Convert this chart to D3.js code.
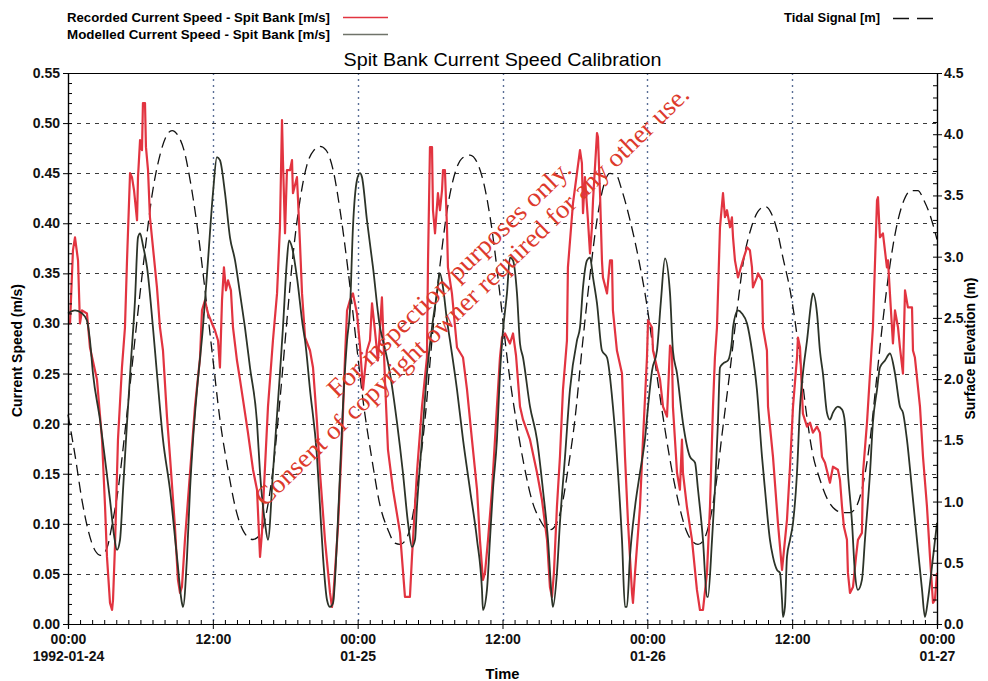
<!DOCTYPE html>
<html>
<head>
<meta charset="utf-8">
<script src="https://cdnjs.cloudflare.com/ajax/libs/d3/7.8.5/d3.min.js"></script>
<style>
body { margin: 0; background: #fff; }
.narrow { font-family: "Liberation Sans Narrow", "Liberation Sans", Arial, sans-serif; font-weight: bold; }
.axis path, .axis line { stroke: #000; }
</style>
</head>
<body>
<div class="chart"></div>
<script>
// Spit Bank current speed calibration chart

var svgWidth = 988;
var svgHeight = 681;

var margin = { top: 73, right: 51, bottom: 57, left: 68 };
var chartWidth = svgWidth - margin.left - margin.right;
var chartHeight = svgHeight - margin.top - margin.bottom;

// data: [hours since 1992-01-24 00:00, value]
var recordedSpeed = [
  [0,0.300],[0.17,0.300],[0.41,0.373],[0.58,0.386],[0.83,0.363],[0.99,0.300],[1.16,0.313],[1.57,0.310],
  [1.82,0.276],[2.40,0.244],[2.82,0.184],[3.07,0.117],[3.23,0.067],[3.48,0.021],[3.65,0.014],[3.73,0.024],
  [3.89,0.077],[4.14,0.184],[4.47,0.256],[4.72,0.296],[4.89,0.363],[5.14,0.450],[5.30,0.446],[5.47,0.433],
  [5.72,0.403],[5.80,0.446],[5.97,0.483],[6.13,0.473],[6.21,0.520],[6.38,0.520],[6.46,0.476],[6.63,0.453],
  [6.79,0.406],[7.37,0.336],[7.62,0.296],[7.87,0.273],[8.20,0.207],[8.45,0.167],[8.86,0.097],[9.11,0.044],
  [9.28,0.031],[9.44,0.037],[9.69,0.084],[10.11,0.151],[10.52,0.217],[10.94,0.266],[11.10,0.313],[11.35,0.323],
  [11.60,0.310],[11.93,0.300],[12.18,0.293],[12.43,0.283],[12.59,0.256],[12.76,0.323],[12.92,0.356],[13.09,0.333],
  [13.26,0.343],[13.50,0.333],[13.67,0.296],[14.00,0.263],[14.25,0.244],[14.50,0.224],[14.91,0.191],[15.33,0.154],
  [15.66,0.134],[15.91,0.067],[16.07,0.091],[16.16,0.117],[16.57,0.217],[16.98,0.283],[17.32,0.330],[17.56,0.396],
  [17.73,0.503],[17.81,0.463],[17.98,0.390],[18.14,0.453],[18.39,0.453],[18.56,0.463],[18.64,0.430],[18.97,0.446],
  [19.06,0.423],[19.22,0.380],[19.39,0.330],[19.64,0.286],[20.05,0.273],[20.30,0.256],[20.63,0.201],[20.88,0.151],
  [21.29,0.084],[21.71,0.031],[21.87,0.017],[21.96,0.024],[22.37,0.097],[22.70,0.184],[22.95,0.266],[23.12,0.313],
  [23.36,0.323],[23.61,0.330],[23.94,0.310],[24.19,0.278],[24.44,0.234],[24.77,0.273],[25.02,0.283],[25.19,0.320],
  [25.43,0.293],[25.68,0.263],[26.01,0.326],[26.26,0.244],[26.51,0.174],[26.93,0.134],[27.51,0.091],[27.92,0.027],
  [28.33,0.027],[28.50,0.067],[28.91,0.151],[29.33,0.217],[29.74,0.266],[29.83,0.363],[29.99,0.476],[30.16,0.476],
  [30.24,0.413],[30.41,0.390],[30.65,0.430],[30.82,0.413],[30.99,0.433],[31.07,0.453],[31.23,0.453],[31.40,0.396],
  [31.48,0.356],[31.81,0.330],[32.23,0.276],[32.73,0.266],[33.06,0.234],[33.47,0.184],[33.89,0.134],[34.13,0.084],
  [34.38,0.044],[34.55,0.051],[34.80,0.084],[35.13,0.134],[35.54,0.217],[35.79,0.266],[35.96,0.286],[36.21,0.290],
  [36.62,0.280],[36.87,0.290],[37.12,0.268],[37.45,0.217],[37.70,0.204],[38.28,0.184],[38.86,0.151],[39.27,0.124],
  [39.69,0.084],[39.93,0.037],[40.10,0.027],[40.26,0.051],[40.51,0.117],[40.76,0.167],[41.01,0.234],[41.34,0.283],
  [41.42,0.356],[41.84,0.420],[42.42,0.473],[42.58,0.460],[42.67,0.410],[42.83,0.446],[43.08,0.403],[43.25,0.370],
  [43.41,0.396],[43.50,0.423],[43.83,0.490],[43.91,0.486],[44.08,0.430],[44.24,0.363],[44.32,0.346],[44.66,0.330],
  [44.91,0.363],[45.07,0.363],[45.15,0.313],[45.48,0.273],[45.90,0.250],[46.15,0.167],[46.40,0.101],[46.73,0.031],
  [46.81,0.021],[46.98,0.051],[47.39,0.117],[47.64,0.184],[47.97,0.266],[48.06,0.303],[48.39,0.296],[48.47,0.273],
  [48.80,0.256],[49.05,0.244],[49.30,0.217],[49.63,0.207],[49.88,0.278],[50.04,0.273],[50.12,0.217],[50.46,0.151],
  [50.70,0.134],[50.87,0.184],[50.95,0.151],[51.28,0.117],[51.70,0.084],[52.11,0.034],[52.36,0.014],[52.61,0.014],
  [52.94,0.051],[53.19,0.117],[53.44,0.217],[53.60,0.266],[53.77,0.296],[54.02,0.396],[54.27,0.430],[54.43,0.406],
  [54.60,0.413],[54.85,0.396],[55.01,0.406],[55.10,0.386],[55.26,0.363],[55.51,0.346],[55.68,0.353],[55.92,0.363],
  [56.26,0.376],[56.50,0.373],[56.67,0.356],[56.75,0.336],[57.08,0.346],[57.17,0.350],[57.50,0.343],[57.58,0.296],
  [57.91,0.273],[58.00,0.217],[58.41,0.167],[58.82,0.101],[59.16,0.054],[59.57,0.104],[59.82,0.157],[60.07,0.217],
  [60.40,0.266],[60.48,0.286],[60.65,0.276],[60.89,0.210],[61.23,0.197],[61.48,0.201],[61.72,0.191],[62.06,0.197],
  [62.30,0.191],[62.47,0.167],[62.72,0.161],[63.13,0.141],[63.38,0.157],[63.79,0.154],[63.96,0.144],[64.13,0.117],
  [64.29,0.097],[64.54,0.084],[64.62,0.051],[64.79,0.031],[65.04,0.037],[65.29,0.067],[65.45,0.084],[65.78,0.091],
  [65.87,0.151],[66.20,0.201],[66.45,0.250],[66.69,0.296],[67.03,0.423],[67.11,0.426],[67.27,0.386],[67.52,0.390],
  [67.85,0.356],[67.94,0.363],[68.10,0.330],[68.27,0.296],[68.35,0.280],[68.52,0.313],[68.77,0.296],[68.93,0.276],
  [69.18,0.250],[69.35,0.333],[69.59,0.316],[69.93,0.316],[70.01,0.273],[70.17,0.266],[70.59,0.217],[70.84,0.167],
  [71.17,0.117],[71.42,0.067],[71.67,0.021],[71.83,0.024],[72.00,0.051]
];

var modelledSpeed = [
  [0,0.310],[0.58,0.313],[1.16,0.310],[1.57,0.303],[1.82,0.283],[2.07,0.250],[2.65,0.204],[3.07,0.164],
  [3.48,0.124],[3.81,0.089],[4.06,0.074],[4.31,0.084],[4.56,0.134],[4.89,0.201],[5.22,0.263],[5.55,0.323],
  [5.80,0.386],[5.97,0.390],[6.21,0.378],[6.55,0.356],[7.04,0.296],[7.37,0.250],[7.87,0.184],[8.45,0.134],
  [9.03,0.067],[9.44,0.021],[9.53,0.017],[9.86,0.067],[10.11,0.134],[10.36,0.184],[10.69,0.234],[11.18,0.296],
  [11.60,0.363],[12.01,0.430],[12.34,0.466],[12.59,0.463],[13.01,0.430],[13.42,0.386],[13.84,0.363],[14.25,0.330],
  [14.66,0.296],[15.08,0.256],[15.66,0.201],[15.91,0.151],[16.32,0.101],[16.57,0.084],[16.98,0.151],[17.56,0.250],
  [17.81,0.296],[18.14,0.363],[18.31,0.383],[18.56,0.376],[18.97,0.346],[19.47,0.296],[19.64,0.283],[20.05,0.234],
  [20.63,0.167],[20.88,0.117],[21.13,0.067],[21.46,0.024],[21.71,0.017],[21.96,0.021],[22.29,0.084],[22.54,0.151],
  [22.78,0.217],[23.12,0.283],[23.36,0.313],[23.61,0.396],[23.94,0.443],[24.19,0.450],[24.36,0.446],[24.77,0.403],
  [25.27,0.356],[25.85,0.296],[26.10,0.283],[26.68,0.250],[27.26,0.201],[27.75,0.151],[28.17,0.101],[28.50,0.077],
  [28.75,0.084],[28.91,0.117],[29.33,0.184],[29.74,0.250],[30.16,0.296],[30.57,0.330],[30.82,0.350],[31.07,0.336],
  [31.40,0.303],[31.65,0.283],[32.23,0.234],[32.73,0.184],[33.31,0.134],[33.89,0.084],[34.30,0.034],[34.38,0.014],
  [34.71,0.034],[34.96,0.084],[35.21,0.134],[35.54,0.184],[35.79,0.250],[36.04,0.293],[36.37,0.330],[36.62,0.366],
  [36.87,0.363],[37.20,0.330],[37.45,0.280],[37.70,0.266],[38.28,0.217],[38.86,0.184],[39.35,0.134],[39.77,0.084],
  [40.10,0.024],[40.18,0.017],[40.51,0.051],[40.76,0.101],[41.18,0.167],[41.59,0.234],[42.17,0.283],[42.42,0.296],
  [42.67,0.336],[43.00,0.363],[43.25,0.366],[43.50,0.346],[43.83,0.320],[44.24,0.273],[44.66,0.266],[45.15,0.217],
  [45.57,0.151],[45.90,0.084],[46.15,0.017],[46.31,0.017],[46.56,0.067],[46.98,0.117],[47.39,0.151],[47.80,0.184],
  [48.06,0.217],[48.39,0.253],[48.80,0.273],[49.13,0.323],[49.46,0.365],[49.88,0.330],[50.12,0.273],[50.46,0.250],
  [50.95,0.201],[51.53,0.167],[51.95,0.161],[52.20,0.134],[52.61,0.084],[52.94,0.027],[53.02,0.027],[53.36,0.084],
  [53.60,0.134],[53.85,0.201],[54.02,0.256],[54.27,0.260],[54.68,0.263],[55.01,0.283],[55.10,0.296],[55.51,0.313],
  [55.84,0.310],[56.26,0.300],[56.67,0.273],[57.08,0.234],[57.50,0.167],[57.75,0.134],[58.16,0.084],[58.41,0.067],
  [58.74,0.054],[58.99,0.051],[59.16,0.024],[59.24,0.007],[59.40,0.017],[59.57,0.067],[59.82,0.084],[60.07,0.101],
  [60.40,0.151],[60.65,0.217],[60.89,0.250],[61.23,0.283],[61.64,0.326],[61.72,0.330],[62.06,0.310],[62.30,0.273],
  [62.55,0.250],[62.88,0.211],[63.13,0.204],[63.38,0.211],[63.79,0.217],[64.13,0.214],[64.37,0.201],[64.62,0.151],
  [64.96,0.101],[65.20,0.051],[65.45,0.034],[65.78,0.044],[66.03,0.084],[66.45,0.151],[66.69,0.201],[67.03,0.234],
  [67.27,0.256],[67.69,0.263],[68.10,0.270],[68.52,0.250],[68.93,0.217],[69.18,0.211],[69.51,0.184],[69.93,0.134],
  [70.34,0.084],[70.76,0.034],[71.00,0.007],[71.25,0.024],[71.58,0.057],[72.00,0.101]
];

var tidalSignal = [
  [0,1.71],[0.58,1.38],[1.16,1.01],[1.66,0.77],[2.24,0.60],[2.73,0.56],[3.23,0.62],[3.65,0.81],
  [4.14,1.09],[4.64,1.50],[5.14,1.95],[5.72,2.48],[6.38,3.05],[6.96,3.50],[7.62,3.83],[8.12,3.98],
  [8.62,4.03],[9.11,3.99],[9.61,3.87],[10.11,3.63],[10.69,3.26],[11.35,2.73],[12.01,2.16],[12.59,1.67],
  [13.26,1.26],[13.92,0.93],[14.58,0.75],[15.33,0.69],[15.91,0.73],[16.40,0.89],[16.98,1.26],[17.56,1.83],
  [18.14,2.48],[18.64,3.01],[19.22,3.46],[19.80,3.75],[20.38,3.87],[20.88,3.90],[21.38,3.87],[21.96,3.71],
  [22.54,3.38],[23.20,2.89],[23.86,2.32],[24.44,1.83],[25.19,1.34],[25.85,0.97],[26.51,0.77],[27.09,0.66],
  [27.51,0.65],[28.00,0.69],[28.50,0.85],[29.00,1.18],[29.58,1.67],[30.16,2.32],[30.82,2.93],[31.48,3.42],
  [32.15,3.71],[32.73,3.81],[33.31,3.83],[33.89,3.77],[34.47,3.59],[35.13,3.22],[35.79,2.69],[36.45,2.12],
  [37.12,1.67],[37.78,1.30],[38.44,1.01],[39.11,0.85],[39.60,0.78],[39.93,0.77],[40.43,0.81],[40.93,0.97],
  [41.42,1.26],[42.00,1.67],[42.58,2.24],[43.25,2.85],[43.83,3.30],[44.41,3.59],[44.90,3.68],[45.40,3.67],
  [45.90,3.54],[46.56,3.30],[47.22,3.01],[47.89,2.65],[48.55,2.20],[49.21,1.75],[49.88,1.34],[50.54,1.01],
  [51.20,0.77],[51.78,0.67],[52.20,0.65],[52.69,0.69],[53.19,0.85],[53.69,1.14],[54.18,1.54],[54.85,2.07],
  [55.43,2.56],[56.01,2.99],[56.59,3.23],[57.17,3.37],[57.75,3.41],[58.24,3.36],[58.74,3.22],[59.24,2.99],
  [59.82,2.73],[60.23,2.48],[60.65,2.16],[61.14,1.75],[61.64,1.42],[62.30,1.18],[62.97,1.01],[63.63,0.93],
  [64.21,0.91],[64.79,0.91],[65.37,0.97],[65.95,1.18],[66.45,1.50],[66.94,1.95],[67.52,2.48],[68.10,2.93],
  [68.68,3.26],[69.26,3.46],[69.84,3.54],[70.42,3.54],[70.92,3.46],[71.42,3.34],[72.00,3.14]
];

var speedTicks = [0, 0.05, 0.10, 0.15, 0.20, 0.25, 0.30, 0.35, 0.40, 0.45, 0.50, 0.55];
var elevTicks = [0, 0.5, 1.0, 1.5, 2.0, 2.5, 3.0, 3.5, 4.0, 4.5];
var timeTicks = [0, 12, 24, 36, 48, 60, 72];
var timeTickTop = ["00:00", "12:00", "00:00", "12:00", "00:00", "12:00", "00:00"];
var timeTickBottom = ["1992-01-24", "", "01-25", "", "01-26", "", "01-27"];

var legendLeft = ["Recorded Current Speed - Spit Bank [m/s]", "Modelled Current Speed - Spit Bank  [m/s]"];
var legendRight = "Tidal Signal [m]";
var watermark = ["For inspection purposes only.", "Consent of copyright owner required for any other use."];

var redColor = "#e23440";
var modelColor = "#2c3328";

var svg = d3.select(".chart")
  .append("svg")
  .attr("width", svgWidth)
  .attr("height", svgHeight);

var chart = svg.append("g")
  .attr("transform", "translate(" + margin.left + "," + margin.top + ")");

var xScale = d3.scaleLinear().domain([0, 72]).range([0, chartWidth]);
var yScale = d3.scaleLinear().domain([0, 0.55]).range([chartHeight, 0]);
var y2Scale = d3.scaleLinear().domain([0, 4.5]).range([chartHeight, 0]);

// grid
chart.append("g")
  .selectAll("line")
  .data(speedTicks.slice(1, -1))
  .enter()
  .append("line")
  .attr("x1", 0)
  .attr("x2", chartWidth)
  .attr("y1", function(d) { return Math.round(yScale(d)) + 0.5; })
  .attr("y2", function(d) { return Math.round(yScale(d)) + 0.5; })
  .attr("stroke", "#3a3a3a")
  .attr("stroke-width", 1.2)
  .attr("stroke-dasharray", "4,5");

chart.append("g")
  .selectAll("line")
  .data(timeTicks.slice(1, -1))
  .enter()
  .append("line")
  .attr("x1", function(d) { return Math.round(xScale(d)) + 0.5; })
  .attr("x2", function(d) { return Math.round(xScale(d)) + 0.5; })
  .attr("y1", 0)
  .attr("y2", chartHeight)
  .attr("stroke", "#5a6f96")
  .attr("stroke-width", 1.4)
  .attr("stroke-dasharray", "2,4");

// series
var line = d3.line()
  .x(function(d) { return xScale(d[0]); })
  .y(function(d) { return yScale(d[1]); });

var tideLine = d3.line()
  .x(function(d) { return xScale(d[0]); })
  .y(function(d) { return y2Scale(d[1]); })
  .curve(d3.curveMonotoneX);

chart.append("path")
  .datum(tidalSignal)
  .attr("d", tideLine)
  .attr("fill", "none")
  .attr("stroke", "#111")
  .attr("stroke-width", 1.3)
  .attr("stroke-dasharray", "11,6");

chart.append("path")
  .datum(recordedSpeed)
  .attr("d", line)
  .attr("fill", "none")
  .attr("stroke", redColor)
  .attr("stroke-width", 2.2)
  .attr("stroke-linejoin", "round");

chart.append("path")
  .datum(modelledSpeed)
  .attr("d", line.curve(d3.curveMonotoneX))
  .attr("fill", "none")
  .attr("stroke", modelColor)
  .attr("stroke-width", 1.8);

// frame
chart.append("line").attr("x1", 0).attr("x2", chartWidth).attr("y1", 0.5).attr("y2", 0.5)
  .attr("stroke", "#000").attr("stroke-width", 1.2);

// axes
var minorSpeed = d3.range(0, 56).map(function(i) { return i / 100; });
var minorElev = d3.range(0, 46).map(function(i) { return i / 10; });
var minorTime = d3.range(0, 73);

var leftAxis = d3.axisLeft(yScale).tickValues(speedTicks).tickSize(5).tickPadding(3)
  .tickFormat(d3.format(".2f"));
chart.append("g").attr("class", "axis narrow").call(leftAxis);
chart.append("g").attr("class", "axis").call(d3.axisRight(yScale).tickValues(minorSpeed).tickSize(4).tickFormat(""));

var rightAxis = d3.axisRight(y2Scale).tickValues(elevTicks).tickSize(5).tickPadding(2)
  .tickFormat(d3.format(".1f"));
chart.append("g").attr("class", "axis narrow")
  .attr("transform", "translate(" + chartWidth + ",0)").call(rightAxis);
chart.append("g").attr("class", "axis")
  .attr("transform", "translate(" + chartWidth + ",0)")
  .call(d3.axisLeft(y2Scale).tickValues(minorElev).tickSize(4).tickFormat(""));

var bottomAxis = d3.axisBottom(xScale).tickValues(timeTicks).tickSize(5).tickPadding(5)
  .tickFormat(function(d, i) { return timeTickTop[i]; });
var bottomG = chart.append("g").attr("class", "axis narrow")
  .attr("transform", "translate(0," + chartHeight + ")").call(bottomAxis);
chart.append("g").attr("class", "axis")
  .attr("transform", "translate(0," + chartHeight + ")")
  .call(d3.axisTop(xScale).tickValues(minorTime).tickSize(4).tickFormat(""));

bottomG.selectAll(".tick text").each(function(d, i) {
  d3.select(this).append("tspan")
    .attr("x", 0)
    .attr("dy", "1.2em")
    .text(timeTickBottom[i]);
});

svg.selectAll(".axis text")
  .attr("fill", "#111")
  .style("font-size", "14px");
svg.selectAll(".axis path.domain").attr("stroke-width", 1.2);

// axis titles
chart.append("text")
  .attr("class", "narrow")
  .attr("transform", "translate(" + (-46) + "," + (chartHeight / 2 + 2) + ") rotate(-90)")
  .attr("text-anchor", "middle")
  .attr("textLength", 133)
  .attr("lengthAdjust", "spacingAndGlyphs")
  .style("font-size", "14px")
  .text("Current Speed (m/s)");

chart.append("text")
  .attr("class", "narrow")
  .attr("transform", "translate(" + (chartWidth + 38) + "," + (chartHeight / 2) + ") rotate(-90)")
  .attr("text-anchor", "middle")
  .attr("textLength", 142)
  .attr("lengthAdjust", "spacingAndGlyphs")
  .style("font-size", "14px")
  .text("Surface Elevation (m)");

svg.append("text")
  .attr("class", "narrow")
  .attr("x", margin.left + chartWidth / 2)
  .attr("y", 679)
  .attr("text-anchor", "middle")
  .attr("textLength", 34)
  .attr("lengthAdjust", "spacingAndGlyphs")
  .style("font-size", "15px")
  .text("Time");

// title
svg.append("text")
  .attr("x", margin.left + chartWidth / 2)
  .attr("y", 66)
  .attr("text-anchor", "middle")
  .attr("textLength", 318)
  .attr("lengthAdjust", "spacingAndGlyphs")
  .style("font-family", "Liberation Sans, Arial, sans-serif")
  .style("font-size", "19px")
  .text("Spit Bank Current Speed Calibration");

// legend
var legend = svg.append("g");
legendLeft.forEach(function(label, i) {
  legend.append("text")
    .attr("class", "narrow")
    .attr("x", 67)
    .attr("y", 22 + i * 17)
    .attr("textLength", 263)
    .attr("lengthAdjust", "spacingAndGlyphs")
    .style("font-size", "13px")
    .text(label);
  legend.append("line")
    .attr("x1", 343).attr("x2", 388)
    .attr("y1", 17.5 + i * 17).attr("y2", 17.5 + i * 17)
    .attr("stroke", i === 0 ? redColor : "#6f736a")
    .attr("stroke-width", 1.5);
});
legend.append("text")
  .attr("class", "narrow")
  .attr("x", 784)
  .attr("y", 22)
  .attr("textLength", 96)
  .attr("lengthAdjust", "spacingAndGlyphs")
  .style("font-size", "13px")
  .text(legendRight);
legend.append("line")
  .attr("x1", 893).attr("x2", 937)
  .attr("y1", 18.5).attr("y2", 18.5)
  .attr("stroke", "#111")
  .attr("stroke-width", 1.3)
  .attr("stroke-dasharray", "16,8");

// watermark
var wm = svg.append("g")
  .style("font-family", "Liberation Serif, Times New Roman, serif")
  .style("font-size", "26px")
  .attr("fill", "#dd3a2c");
wm.append("text")
  .attr("transform", "translate(455,285) rotate(-44)")
  .attr("text-anchor", "middle")
  .attr("textLength", 328)
  .attr("lengthAdjust", "spacingAndGlyphs")
  .text(watermark[0]);
wm.append("text")
  .attr("transform", "translate(478,302) rotate(-44)")
  .attr("text-anchor", "middle")
  .attr("textLength", 592)
  .attr("lengthAdjust", "spacingAndGlyphs")
  .text(watermark[1]);
</script>
</body>
</html>
